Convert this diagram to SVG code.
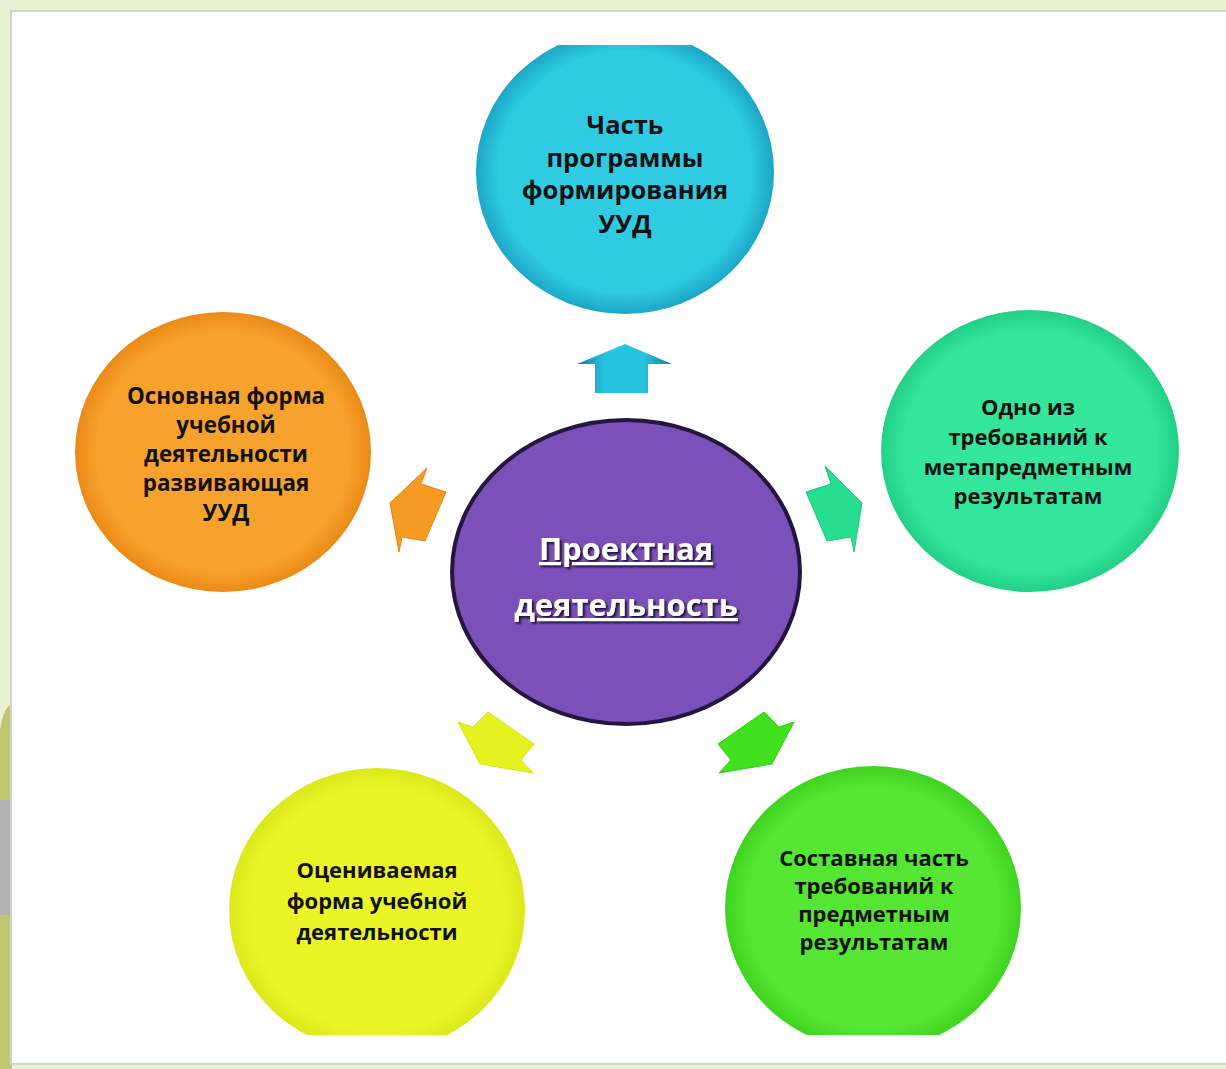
<svg xmlns="http://www.w3.org/2000/svg" width="1226" height="1069" viewBox="0 0 1226 1069">
<style>
.lbl{font-family:"Open Sans","Liberation Sans",sans-serif;font-weight:bold;fill:#111;text-anchor:middle;font-size:22px}
.big{font-size:25.5px}
.mid{font-size:22.4px}
.ctr{font-family:"Open Sans","Liberation Sans",sans-serif;font-weight:bold;fill:#fff;text-anchor:middle;font-size:31px;text-decoration:underline}
</style>
<defs>
<radialGradient id="gCyan"><stop offset="0.85" stop-color="#2ecbe2"/><stop offset="1" stop-color="#1ca6c6"/></radialGradient>
<radialGradient id="gOrange"><stop offset="0.85" stop-color="#f8a22e"/><stop offset="1" stop-color="#ea8a16"/></radialGradient>
<radialGradient id="gTeal"><stop offset="0.85" stop-color="#33e69c"/><stop offset="1" stop-color="#22cf86"/></radialGradient>
<radialGradient id="gYellow"><stop offset="0.85" stop-color="#ebf526"/><stop offset="1" stop-color="#dbe81a"/></radialGradient>
<radialGradient id="gGreen"><stop offset="0.85" stop-color="#55e533"/><stop offset="1" stop-color="#3fd420"/></radialGradient>
<linearGradient id="aCyan" x1="0" y1="0" x2="1" y2="0"><stop offset="0" stop-color="#137fa0"/><stop offset="0.3" stop-color="#27c4e0"/><stop offset="0.7" stop-color="#27c4e0"/><stop offset="1" stop-color="#137fa0"/></linearGradient>
<clipPath id="clipTop"><rect x="0" y="45" width="1226" height="1000"/></clipPath>
<clipPath id="clipBot"><rect x="0" y="0" width="1226" height="1035"/></clipPath>
<filter id="shadow" x="-10%" y="-20%" width="120%" height="140%"><feDropShadow dx="2" dy="2" stdDeviation="1.2" flood-color="#1a1030" flood-opacity="1"/></filter>
</defs>
<rect x="0" y="0" width="1226" height="1069" fill="#e7f2d0"/>
<path d="M0 730 Q4 705 12 705 L12 1069 L0 1069 Z" fill="#bfc66e"/>
<rect x="0" y="800" width="12" height="115" fill="#b2b2b2"/>
<rect x="10" y="10" width="1216" height="1055" fill="#cfd4c8"/>
<rect x="12" y="12" width="1214" height="1051" fill="#ffffff"/>

<g id="connectors">
<polygon points="625,344 672,364 648,364 648,393 595,393 595,364 577,364" fill="url(#aCyan)"/>
<polygon points="825,466 831,484 806,492 827,541 851,537 854,552 862,503" fill="#27dd8f" stroke="#1fc77c" stroke-width="1"/>
<polygon points="427,468 421,484 446,492 425,541 402,537 399,552 390,503" fill="#f79a24" stroke="#e08412" stroke-width="1"/>
<polygon points="458,722 473,727 488,712 534,744 521,760 533,773 480,764" fill="#e6f220" stroke="#d5e218" stroke-width="1"/>
<polygon points="794,722 779,727 764,712 718,744 731,760 719,773 772,764" fill="#40e01e" stroke="#34cc14" stroke-width="1"/>
</g>

<g id="node-top">
<ellipse cx="625" cy="172" rx="149" ry="142" fill="url(#gCyan)" clip-path="url(#clipTop)"/>
<text class="lbl big" x="625" y="134">Часть</text>
<text class="lbl big" x="625" y="167">программы</text>
<text class="lbl big" x="625" y="199">формирования</text>
<text class="lbl big" x="625" y="233">УУД</text>
</g>

<g id="node-left">
<ellipse cx="223" cy="452" rx="148" ry="140" fill="url(#gOrange)"/>
<text class="lbl mid" x="226" y="404">Основная форма</text>
<text class="lbl mid" x="226" y="433">учебной</text>
<text class="lbl mid" x="226" y="462">деятельности</text>
<text class="lbl mid" x="226" y="491">развивающая</text>
<text class="lbl mid" x="226" y="521">УУД</text>
</g>

<g id="node-right">
<ellipse cx="1030" cy="451" rx="149" ry="141" fill="url(#gTeal)"/>
<text class="lbl" x="1028" y="415">Одно из</text>
<text class="lbl" x="1028" y="445">требований к</text>
<text class="lbl" x="1028" y="475">метапредметным</text>
<text class="lbl" x="1028" y="504">результатам</text>
</g>

<g id="node-bottom-left">
<ellipse cx="377" cy="910" rx="148" ry="142" fill="url(#gYellow)" clip-path="url(#clipBot)"/>
<text class="lbl" x="377" y="878">Оцениваемая</text>
<text class="lbl" x="377" y="909">форма учебной</text>
<text class="lbl" x="377" y="940">деятельности</text>
</g>

<g id="node-bottom-right">
<ellipse cx="873" cy="908" rx="148" ry="142" fill="url(#gGreen)" clip-path="url(#clipBot)"/>
<text class="lbl" x="874" y="866">Составная часть</text>
<text class="lbl" x="874" y="894">требований к</text>
<text class="lbl" x="874" y="922">предметным</text>
<text class="lbl" x="874" y="950">результатам</text>
</g>

<g id="node-center">
<ellipse cx="626" cy="572" rx="174" ry="152" fill="#7b50b8" stroke="#24163f" stroke-width="4"/>
<text class="ctr" x="626" y="560" filter="url(#shadow)">Проектная</text>
<text class="ctr" x="626" y="616" filter="url(#shadow)">деятельность</text>
</g>
</svg>
